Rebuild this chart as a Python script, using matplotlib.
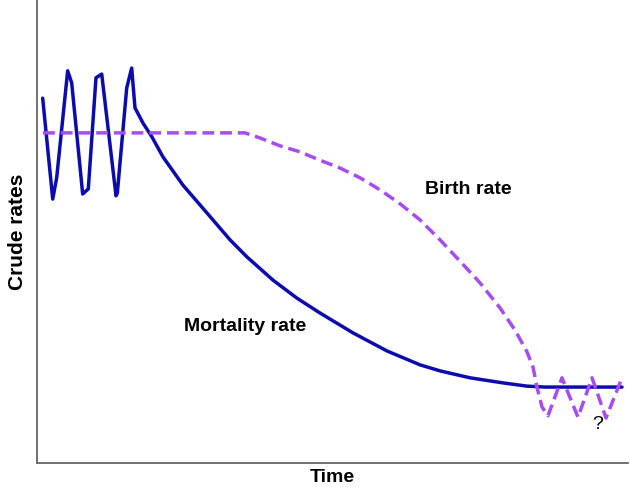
import matplotlib
matplotlib.use('Agg')
import matplotlib.pyplot as plt

plt.rcParams['font.family'] = ['Liberation Sans', 'DejaVu Sans']

# Mortality rate (solid blue), time and rate in arbitrary units 0-100
mort_time = [0.96, 2.66, 3.33, 5.19, 5.87, 7.73, 8.68, 9.98, 10.95, 13.37, 13.59,
             15.18, 16.02, 16.58, 17.94, 19.46, 21.32, 24.70, 28.76, 32.66, 35.53,
             39.93, 43.99, 47.88, 53.47, 59.22, 64.81, 68.19, 73.27, 78.85, 82.91,
             85.96, 98.98]
mort_rate = [78.8, 57.0, 61.6, 84.7, 82.1, 58.1, 59.2, 83.2, 84.0, 57.7, 58.3,
             81.0, 85.3, 76.7, 73.4, 70.4, 66.1, 60.0, 54.0, 48.2, 44.5,
             39.5, 35.6, 32.4, 28.1, 24.2, 21.2, 19.9, 18.4, 17.3, 16.6,
             16.4, 16.4]

# Birth rate (dashed purple)
birth_time = [1.02, 35.2, 37.73, 41.12, 44.50, 47.88, 51.27, 54.65, 58.04, 61.42,
              64.81, 68.19, 71.57, 74.96, 78.34, 80.88, 82.91, 83.93, 84.60, 85.45,
              86.46, 88.83, 91.54, 93.91, 96.28, 98.98]
birth_rate = [71.3, 71.3, 70.2, 68.5, 67.2, 65.4, 63.7, 61.6, 59.0, 56.0,
              52.5, 48.2, 43.6, 38.9, 33.5, 28.7, 24.0, 20.7, 16.4, 12.1,
              10.2, 18.4, 9.9, 18.4, 9.7, 18.4]

fig = plt.figure(figsize=(6.3, 4.87), dpi=100)
ax = fig.add_axes([37 / 630, 24 / 487, 591 / 630, 463 / 487])

ax.plot(mort_time, mort_rate, color='#0B0BAE', linewidth=2.5,
        solid_joinstyle='round', solid_capstyle='round')
ax.plot(birth_time, birth_rate, color='#A64CF0', linewidth=2.5,
        linestyle=(0, (3.4, 1.7)), dash_capstyle='butt', dash_joinstyle='round')

ax.text(72.9, 59.0, 'Birth rate', fontsize=14, fontweight='bold', ha='center', va='center')
ax.text(35.2, 29.4, 'Mortality rate', fontsize=14, fontweight='bold', ha='center', va='center')
ax.text(94.8, 8.3, '?', fontsize=14, ha='center', va='center')

ax.set_xlim(0, 100)
ax.set_ylim(0, 100)
ax.set_xticks([])
ax.set_yticks([])
for side in ['top', 'right']:
    ax.spines[side].set_visible(False)
for side in ['left', 'bottom']:
    ax.spines[side].set_color('#666666')
    ax.spines[side].set_linewidth(1.3)

ax.set_xlabel('Time', fontsize=14, fontweight='bold', labelpad=4)
ax.set_ylabel('Crude rates', fontsize=15, fontweight='bold', labelpad=7)

fig.savefig('out.png', dpi=100)
